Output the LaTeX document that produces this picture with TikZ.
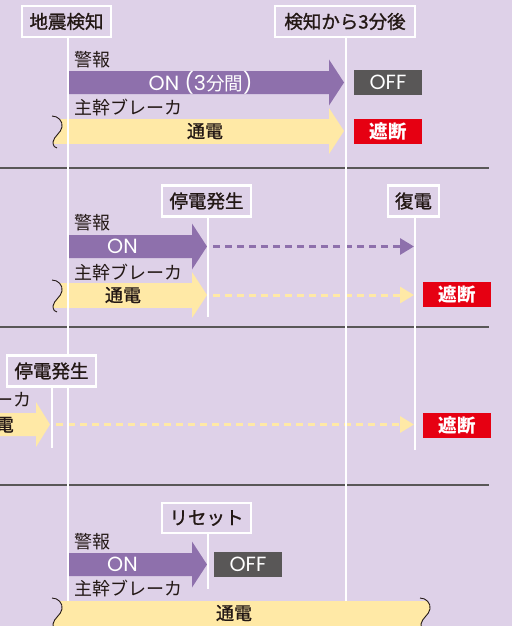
\documentclass[tikz,border=0pt]{standalone}
\usepackage{fontspec}
\setmainfont{Noto Sans CJK JP}
\newfontfamily\jpmed{Noto Sans CJK JP}[FakeBold=1.2]
\newfontfamily\lat{Poppins}
\usetikzlibrary{arrows.meta}
\definecolor{bg}{RGB}{222,209,232}
\definecolor{pur}{RGB}{142,112,172}
\definecolor{yel}{RGB}{255,233,166}
\definecolor{rd}{RGB}{230,0,18}
\definecolor{gr}{RGB}{89,87,87}
\definecolor{ink}{RGB}{35,24,21}
% purple bar arrow: #1 x start, #2 body end, #3 centre y
\newcommand\parrow[3]{%
  \fill[pur] (#1,#3-11.5) -- (#2,#3-11.5) -- (#2,#3-23) -- (#2+15,#3)
    -- (#2,#3+23) -- (#2,#3+11.5) -- (#1,#3+11.5) -- cycle;}
% yellow bar arrow with torn left edge: #1 wave x, #2 body end, #3 centre y
\newcommand\yarrow[3]{%
  \begin{scope}
    \clip (0,#3-12) rectangle (#2+1,#3+12);
    \fill[yel] (#1,#3-15) .. controls (#1+6,#3-15) and (#1+11,#3-10) .. (#1+10,#3-4)
      .. controls (#1+9,#3+2) and (#1+2,#3+5) .. (#1+1,#3+11)
      .. controls (#1+1,#3+15) and (#1+3,#3+17) .. (#1+5,#3+17)
      -- (#2+1,#3+17) -- (#2+1,#3-15) -- cycle;
  \end{scope}
  \fill[yel] (#2,#3-23) -- (#2+15,#3) -- (#2,#3+23) -- cycle;
  \draw[tear] (#1,#3-15) .. controls (#1+6,#3-15) and (#1+11,#3-10) .. (#1+10,#3-4)
      .. controls (#1+9,#3+2) and (#1+2,#3+5) .. (#1+1,#3+11)
      .. controls (#1+1,#3+15) and (#1+3,#3+17) .. (#1+5,#3+17);}
\begin{document}
\begin{tikzpicture}[x=1pt,y=-1pt,
  tear/.style={ink, line width=0.9pt},
  lab/.style={draw=white, line width=2.4pt, fill=bg, inner sep=0pt,
    minimum width=89pt, minimum height=31pt, text=ink,
    font=\jpmed\fontsize{18.5}{20}\selectfont},
  vline/.style={white, line width=2.3pt},
  sepline/.style={gr, line width=1.2pt},
  note/.style={inner sep=0pt, text=ink, font=\fontsize{18}{20}\selectfont},
  bartext/.style={inner sep=0pt, font=\fontsize{18.5}{20}\selectfont},
  latin/.style={inner sep=0pt, text=white, font=\lat\fontsize{20.5}{22}\selectfont},
  statebox/.style={minimum width=68pt, minimum height=25pt, inner sep=0pt,
    text=white},
  offbox/.style={statebox, fill=gr, font=\lat\fontsize{20.5}{22}\selectfont},
  cutbox/.style={statebox, fill=rd, font=\bfseries\fontsize{18.5}{20}\selectfont},
  dpur/.style={pur, line width=3pt, dash pattern=on 7pt off 5pt,
    -{Triangle[length=14pt,width=16pt]}},
  dyel/.style={yel, line width=3pt, dash pattern=on 7pt off 5pt,
    -{Triangle[length=14pt,width=16pt]}}]
\fill[bg] (0,0) rectangle (512,626);
\useasboundingbox (0,0) rectangle (512,626);
\clip (0,0) rectangle (512,626);

% separators
\draw[sepline] (0,168) -- (489,168);
\draw[sepline] (0,327) -- (489,327);
\draw[sepline] (0,485) -- (489,485);

% ---------- section 1 ----------
\parrow{69}{329}{82.5}
\yarrow{52}{329}{131}

% ---------- section 2 ----------
\parrow{69}{192}{246.5}
\yarrow{52}{192}{295}
\coordinate (p2tip) at (213,246.5);
\coordinate (p2end) at (414,246.5);
\coordinate (y2tip) at (213,295);
\coordinate (y2end) at (414,295);
\draw[dpur] (p2tip) -- (p2end);
\draw[dyel] (y2tip) -- (y2end);

% ---------- section 3 ----------
\fill[yel] (-5,413) -- (36,413) -- (36,402) -- (50,424.5) -- (36,447)
  -- (36,436) -- (-5,436) -- cycle;
\coordinate (y3tip) at (56,424.5);
\coordinate (y3end) at (414,424.5);
\draw[dyel] (y3tip) -- (y3end);

% ---------- section 4 arrow ----------
\parrow{69}{192}{564.5}

% labels (positions)
\node[lab] (lab1) at (66.5,21.5) {地震検知};
\node[lab, minimum width=140pt] (lab2) at (345,21.5) {検知から3分後};
\node[lab] (lab3) at (206.5,201) {停電発生};
\node[lab, minimum width=51pt] (lab4) at (413.5,201) {復電};
\node[lab] (lab5) at (51.5,371) {停電発生};
\node[lab, minimum height=30pt] (lab6) at (206.5,518) {リセット};

% vertical time lines
\coordinate (e1) at (68,626);
\coordinate (e2) at (346,626);
\coordinate (e3) at (208,317);
\coordinate (e4) at (415,450);
\coordinate (e5) at (52,448);
\coordinate (e6) at (208,589);
\draw[vline] (lab1.south -| e1) -- (e1);
\draw[vline] (lab2.south -| e2) -- (e2);
\draw[vline] (lab3.south -| e3) -- (e3);
\draw[vline] (lab4.south -| e4) -- (e4);
\draw[vline] (lab5.south -| e5) -- (e5);
\draw[vline] (lab6.south -| e6) -- (e6);

% redraw labels on top of the lines
\node[lab] at (lab1) {地震検知};
\node[lab, minimum width=140pt] at (lab2) {検知から3分後};
\node[lab] at (lab3) {停電発生};
\node[lab, minimum width=51pt] at (lab4) {復電};
\node[lab] at (lab5) {停電発生};
\node[lab, minimum height=30pt] at (lab6) {リセット};

% section 4 band
\begin{scope}
  \clip (0,601) rectangle (512,625);
  \fill[yel] (52,598) .. controls (58,598) and (63,603) .. (62,609)
    .. controls (61,615) and (54,618) .. (53,624)
    .. controls (53,628) and (55,630) .. (57,630)
    -- (425,630) .. controls (423,630) and (421,628) .. (421,624)
    .. controls (422,618) and (429,615) .. (430,609)
    .. controls (431,603) and (426,598) .. (420,598) -- cycle;
\end{scope}
\draw[tear] (52,598) .. controls (58,598) and (63,603) .. (62,609)
    .. controls (61,615) and (54,618) .. (53,624)
    .. controls (53,628) and (55,630) .. (57,630);
\draw[tear] (420,598) .. controls (426,598) and (431,603) .. (430,609)
    .. controls (429,615) and (422,618) .. (421,624)
    .. controls (421,628) and (423,630) .. (425,630);

% texts
\node[note, anchor=west] (t1a) at (74,60) {警報};
\node[note, anchor=west] (t1b) at (74,108) {主幹ブレーカ};
\node[bartext, text=white] (t1c) at (200.5,82.5) {{\lat\fontsize{20.5}{22}\selectfont ON (3}分間{\lat\fontsize{20.5}{22}\selectfont )}};
\node[bartext, text=ink, font=\jpmed\fontsize{18}{20}\selectfont] (t1d) at (205,131) {通電};
\node[offbox] (s1a) at (388,82.5) {OFF};
\node[cutbox] (s1b) at (388,131.5) {遮断};

\node[note, anchor=west] (t2a) at (74,223) {警報};
\node[note, anchor=west] (t2b) at (74,273) {主幹ブレーカ};
\node[latin] (t2c) at (122.5,246.5) {ON};
\node[bartext, text=ink, font=\jpmed\fontsize{18}{20}\selectfont] (t2d) at (123,295) {通電};
\node[cutbox] (s2a) at (457,294.5) {遮断};

\node[note, anchor=east] (t3b) at (32,400) {主幹ブレーカ};
\node[bartext, text=ink, anchor=east, font=\jpmed\fontsize{18}{20}\selectfont] (t3d) at (14,424.5) {通電};
\node[cutbox] (s3a) at (457,425.5) {遮断};

\node[note, anchor=west] (t4a) at (74,542) {警報};
\node[note, anchor=west] (t4b) at (74,588) {主幹ブレーカ};
\node[latin] (t4c) at (122.5,564.5) {ON};
\node[offbox] (s4a) at (248,564.5) {OFF};
\node[bartext, text=ink, font=\jpmed\fontsize{18}{20}\selectfont] (t4d) at (234,613) {通電};
\end{tikzpicture}
\end{document}
